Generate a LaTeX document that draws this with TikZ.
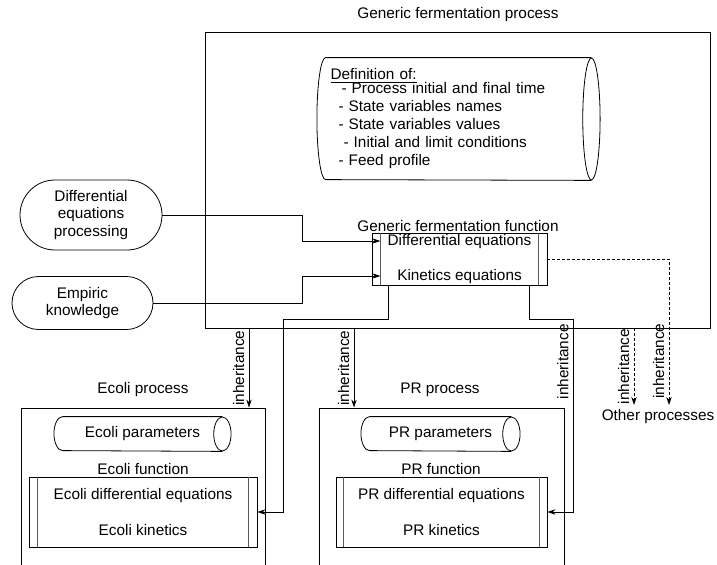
\documentclass[tikz,border=0pt]{standalone}
\usepackage{fontspec}
\setmainfont{Liberation Sans}
\usetikzlibrary{arrows.meta,shapes.misc}

% lying cylinder round a node: half arc left, full ellipse right
\newcommand{\tubeoutline}[3]{%
  \draw (#1.north east) -- (#1.north west)
    arc[start angle=90, end angle=270, x radius=#2, y radius=#3] -- (#1.south east);
  \draw (#1.east) ellipse [x radius=#2, y radius=#3];}
% side bars of a function box
\newcommand{\funbars}[2]{%
  \draw[black!65, line width=0.9pt] ([xshift=#2]#1.north west) -- ([xshift=#2]#1.south west)
    ([xshift=-#2]#1.north east) -- ([xshift=-#2]#1.south east);}

\begin{document}
\begin{tikzpicture}[x=0.75pt, y=-0.75pt, line width=0.6pt,
  every node/.style={font=\fontsize{11.5}{13}\selectfont},
  term/.style={draw, rounded rectangle, align=center, inner sep=0pt},
  fun/.style={draw, align=center, inner sep=0pt},
  tubetext/.style={inner sep=0pt},
  flow/.style={-{Stealth[length=6pt, width=4pt]}},
  dflow/.style={flow, dash pattern=on 2.25pt off 1.5pt},
  inh/.style={rotate=90, above}]
  \useasboundingbox (0,0) rectangle (717,564);
  \clip (0,0) rectangle (717,564);

  % generic process
  \node (gentitle) at (458,15) {Generic fermentation process};
  \node[draw, minimum width=378.75pt, minimum height=222pt] (genbox) at (457.5,180) {};
  \node[align=left, text width=192pt, inner xsep=3.4pt, inner ysep=0pt, minimum height=91.5pt,
        font=\fontsize{11.5}{13.5}\selectfont] (defs) at (458.5,119) {%
    \underline{Definition of:}\\[-3pt]
    \hspace*{8.25pt}- Process initial and final time\\
    \hspace*{6pt}- State variables names\\
    \hspace*{6pt}- State variables values\\
    \hspace*{9.75pt}- Initial and limit conditions\\
    \hspace*{6pt}- Feed profile};
  \tubeoutline{defs}{6.5pt}{45.75pt}

  \node[term, minimum width=106.5pt, minimum height=52.5pt] (dein) at (91,215) {Differential\\equations\\processing};
  \node[term, minimum width=105.75pt, minimum height=39.75pt] (emp) at (82.5,303) {Empiric\\knowledge};

  \node (genlab) at (458,226) {Generic fermentation function};
  \node[fun, minimum width=131.25pt, minimum height=39pt] (genfun) at (459.5,259) {Differential equations\\[13.5pt]Kinetics equations};
  \funbars{genfun}{6.5pt}

  % Ecoli
  \node (ectitle) at (143,390) {Ecoli process};
  \node[draw, minimum width=183pt, minimum height=144pt] (ecbox) at (143,504) {};
  \node[tubetext, minimum width=119.25pt, minimum height=25.5pt] (ecpar) at (142.5,434) {Ecoli parameters};
  \tubeoutline{ecpar}{6.5pt}{12.75pt}
  \node (eclab) at (143,469) {Ecoli function};
  \node[fun, minimum width=171pt, minimum height=52.5pt] (ecfun) at (143,512) {Ecoli differential equations\\[13.5pt]Ecoli kinetics};
  \funbars{ecfun}{6.75pt}

  % PR
  \node (prtitle) at (440,390) {PR process};
  \node[draw, minimum width=183.75pt, minimum height=144pt] (prbox) at (441.5,504) {};
  \node[tubetext, minimum width=105.75pt, minimum height=25.5pt] (prpar) at (440.5,434) {PR parameters};
  \tubeoutline{prpar}{6.5pt}{12.75pt}
  \node (prlab) at (441,469) {PR function};
  \node[fun, minimum width=158.25pt, minimum height=52.5pt] (prfun) at (441.5,512) {PR differential equations\\[13.5pt]PR kinetics};
  \funbars{prfun}{6pt}

  \node (others) at (658,417) {Other processes};

  % connectors
  \draw[flow] (dein.east) -- ++(140,0) |- ([xshift=6.5pt, yshift=13.5pt]genfun.west);
  \draw[flow] (emp.east) -- ++(149,0) |- ([xshift=6.5pt, yshift=-12.75pt]genfun.west);
  \draw[flow] ([xshift=-53.6pt]genfun.south) -- ++(0,34) -| ([xshift=19.5pt]ecfun.east) -- (ecfun.east);
  \draw[flow] ([xshift=52.1pt]genfun.south) -- ++(0,34) -| ([xshift=19.5pt]prfun.east)
    node[inh, pos=0.61] {inheritance} -- (prfun.east);

  \coordinate (ecin) at ([xshift=79.5pt]ecbox.north);
  \coordinate (prin) at ([xshift=-65.6pt]prbox.north);
  \draw[flow] (ecin |- genbox.south) -- (ecin) node[inh, midway] {inheritance};
  \draw[flow] (prin |- genbox.south) -- (prin) node[inh, midway] {inheritance};

  \coordinate (oth1) at ([xshift=-18pt]others.north);
  \coordinate (oth2) at ([xshift=8.25pt]others.north);
  \draw[dflow] (oth1 |- genbox.south) -- (oth1) node[inh, midway] {inheritance};
  \draw[dflow] (genfun.east) -| (oth2) node[inh, pos=0.85] {inheritance};
\end{tikzpicture}
\end{document}
